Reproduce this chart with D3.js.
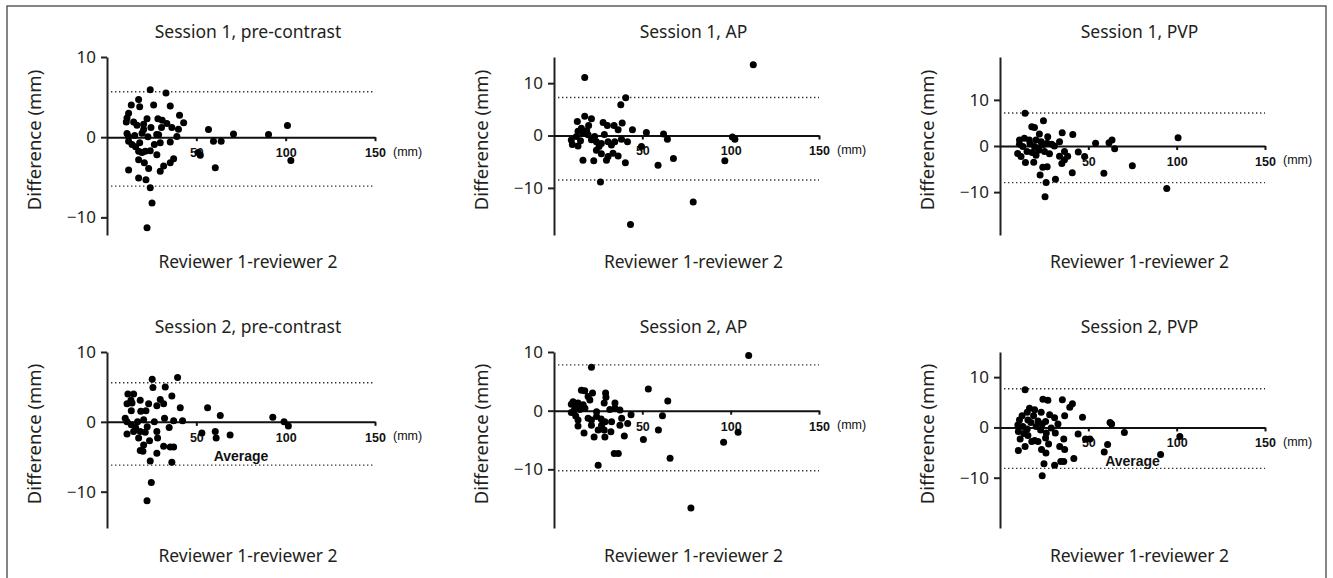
<!DOCTYPE html>
<html>
<head>
<meta charset="utf-8">
<style>
  body { margin: 0; background: #fff; }
  .title, .xlab, .ylab {
    font-family: "Noto Sans", sans-serif;
    font-size: 17.5px;
    fill: #231f20;
  }
  .ylab { font-size: 18.5px; }
  .yaxis text {
    font-family: "Noto Sans", sans-serif;
    font-size: 17px;
    fill: #231f20;
  }
  .xaxis text {
    font-family: "Liberation Sans", Arial, sans-serif;
    font-weight: bold;
    font-size: 12.5px;
    fill: #111;
  }
  .unit {
    font-family: "Liberation Sans", Arial, sans-serif;
    font-size: 12.5px;
    fill: #111;
  }
  .avg {
    font-family: "Liberation Sans", Arial, sans-serif;
    font-weight: bold;
    font-size: 14px;
    fill: #111;
  }
</style>
</head>
<body>
<svg id="chart" width="1333" height="578"></svg>
<script src="https://d3js.org/d3.v7.min.js"></script>
<script>
// average (mm) vs difference (mm)
var s1Pre = [[24.2,5.9],[33,5.5],[17.7,4.7],[13.6,4],[18.3,3.8],[26.1,4],[35.4,3.9],[12.1,3],[11.2,2.4],[10.8,1.9],
  [40.6,2.75],[22.4,2.3],[28.5,2.3],[30.9,2.1],[33.5,1.7],[14.9,1.9],[16.8,1.5],[20.5,1.6],[24.6,1.2],[42.9,1.8],
  [36.3,1.2],[40,1],[56.8,0.96],[20.5,0.96],[19.6,0.5],[70.8,0.4],[90.4,0.33],[101,1.46],[11.2,0.46],[12.1,0.1],
  [39.1,0.1],[28.9,0.3],[22.9,0.04],[12.1,-0.5],[14,-0.9],[18.3,-0.7],[29.8,-0.7],[35.4,-0.6],[59.6,-0.5],[63.9,-0.5],
  [17.7,-1.75],[19.6,-1.9],[21.4,-1.75],[24.2,-1.7],[27.9,-2.2],[52.2,-2.25],[37.3,-2.7],[35.4,-3.2],[31.7,-3.6],[17.7,-2.8],
  [20.9,-3.2],[12.1,-4.1],[23.3,-3.9],[29.8,-4.25],[60.6,-3.8],[102.9,-2.9],[17.7,-5.1],[21.8,-5.3],[24.2,-6.3],[25.2,-8.2],
  [22.4,-11.3],[51,-1.9],[15.5,0.2],[27.8,0.34],[26.5,-0.9],[16,-1.2],[30.5,1.2]];
var s1AP = [[17.4,11.1],[112.8,13.5],[40.6,7.2],[37.8,5.9],[17.4,3.7],[21.2,3.2],[13.2,2.7],[19.6,1.9],[15.5,1.4],[27.8,2.5],
  [30.2,1.9],[34,1.9],[38.6,2.4],[44.4,1.1],[36.3,1.1],[13.6,0.8],[52.3,0.6],[62,0.3],[64.2,-0.7],[102.4,-0.7],
  [23,-0.2],[16.4,0.45],[19.3,0.13],[9.8,-0.85],[10.4,-1.7],[13.6,-2],[24,-1.2],[26.8,-1.5],[30.6,-1.2],[34.4,-1.2],
  [38.2,-0.7],[41.6,-1.2],[32.5,-1.8],[49.5,-2.1],[24,-2.8],[26.8,-3.5],[29.7,-4.7],[33.4,-3.4],[36.3,-3.9],[16.4,-4.7],
  [22.5,-4.8],[40.4,-5.2],[58.9,-5.7],[67.6,-4.4],[96.7,-4.8],[26.3,-8.9],[78.8,-12.7],[43.3,-17],[30.6,-4],[25.5,-2.1],
  [21.2,-0.8],[12.7,-0.2],[101,-0.3],[18.5,0.9],[28.5,0.2],[15,-1]];
var s1PVP = [[14.2,7.1],[24.6,5.5],[18,4.2],[19.5,4],[35.2,2.9],[41.2,2.5],[22.3,2.6],[27,2],[100.8,1.8],[63.4,1.3],
  [61.7,0.7],[54.1,0.6],[64.9,-0.6],[11,1.3],[13.8,1.7],[16.6,1.3],[20.4,1.3],[23.3,0.9],[26.7,0.6],[29.3,0.4],
  [33.7,0.9],[11,0.4],[12.9,-0.1],[19.5,-0.1],[30.8,0],[10,-1.6],[11.9,-2.3],[15.3,-1.2],[20.4,-2],[25.2,-1.2],
  [28,-1.7],[36.5,-1.2],[33.7,-2.2],[38.3,-2.2],[44.3,-1.3],[47.9,-2.3],[14.4,-3.6],[19.1,-3.5],[35,-3.8],[36.5,-3],
  [74.9,-4.3],[24.2,-4.6],[26.7,-4.5],[40.9,-5.8],[58.8,-5.9],[22.7,-6.3],[26.1,-7.9],[31.4,-7.2],[94.4,-9.2],[25.5,-11],
  [18.2,-1.4],[21.8,-0.9],[17,0.5],[22,-0.4],[24.5,0.3]];
var s2Pre = [[25.3,6.1],[39.5,6.35],[25.7,4.9],[32.6,5],[11.7,4],[14.9,4],[13.4,3.1],[18.6,3.1],[11.2,2.6],[14,2.7],
  [29.8,3.2],[31.7,2.6],[27.9,2.3],[23.3,2.6],[36.3,3.7],[41,2],[56.3,2],[63.4,0.9],[92.8,0.66],[99.1,0],
  [101.5,-0.6],[13.6,1.6],[18.9,1.5],[21.8,1.6],[10.2,0.5],[11.2,0],[13.6,-0.4],[17.1,0],[20.5,0.3],[26.5,0],
  [32.2,0.5],[37.3,0.15],[42.3,0.15],[34.8,-0.8],[11.2,-1.75],[14.9,-1.4],[18.6,-1.4],[21.4,-1.5],[27.9,-1.4],[17.7,-2.3],
  [23.8,-2.7],[28.3,-2.3],[53.1,-1.6],[60.6,-1.4],[61.1,-2.3],[68.9,-1.9],[20.5,-3.3],[31.7,-3.5],[35.4,-3.6],[37.3,-3.6],
  [18.6,-4.1],[20.1,-4.2],[27.9,-4.5],[24.2,-5.6],[36.3,-5.8],[24.8,-8.7],[22.4,-11.3],[16,-0.8],[22.5,-0.7]];
var s2AP = [[21.2,7.4],[110.2,9.4],[53.4,3.7],[64.4,1.66],[61.4,-0.86],[15.5,3.5],[17.4,3.4],[21.8,3],[29.2,3],[29.4,2.3],
  [19.3,2.4],[20.3,1.8],[10.8,1.5],[13.6,1.3],[28.4,1.3],[34.5,1.3],[9.8,1.1],[16.5,1],[12.7,0.7],[14.6,0.2],
  [37.3,0.1],[31.6,0.2],[34.5,0.4],[9.8,-0.3],[12.3,-0.9],[24.1,-0.2],[43.6,-0.7],[13.6,-1.6],[19.3,-1.3],[24.1,-1],
  [26.7,-1.4],[28.9,-1.9],[32.6,-1.9],[38.3,-1.3],[37.3,-2.5],[41.7,-2.2],[13.6,-2.6],[21.2,-2.5],[25,-3.3],[28.4,-3.3],
  [32.2,-3.6],[17,-3.8],[22.7,-4.5],[28.8,-4.5],[39.8,-4.3],[59.1,-3.3],[50.6,-4.9],[96,-5.4],[104.2,-3.7],[34.1,-7.3],
  [36.4,-7.3],[65.7,-8.1],[25,-9.3],[77.5,-16.6],[26.9,-2.5],[21.2,-1.6],[17.5,0.4],[11.5,0.1]];
var s2PVP = [[14.2,7.5],[24.3,5.6],[27.1,5.4],[35.3,5.5],[41,4.7],[39.5,4],[16.7,3.8],[19.6,3.5],[15.4,3],[23.3,3],
  [28.1,2.5],[36.6,2.3],[46.7,2],[12.5,2.3],[19,2.3],[30.9,1.9],[11,1.5],[15.8,1.5],[21.5,1.3],[25.8,1.2],
  [32.8,0.7],[62.3,1],[63.2,0.7],[10.1,0.5],[12.9,0.2],[20.5,0.2],[23.9,0.7],[29,-0.1],[10.4,-0.8],[15.4,-0.3],
  [23,-0.5],[26.2,-1.1],[31.3,-1.1],[70.4,-1],[44.2,-1.3],[101.8,-1.8],[11.4,-2.3],[15.8,-1.6],[19.6,-2.6],[25.8,-2.1],
  [36.1,-2.3],[48.4,-2.3],[18,-2.8],[21.5,-2.8],[27.5,-3.3],[33.8,-3.8],[36.6,-4.4],[60.9,-3.4],[14.2,-3.8],[10.4,-4.6],
  [23.5,-4.4],[26,-5.1],[59,-4.9],[90.9,-5.4],[41.8,-6.2],[24.9,-7.2],[30.9,-7.5],[34.4,-6.8],[36.1,-6.8],[23.9,-9.6],
  [50.9,-2.3],[17.5,1],[13.5,-1.2]];

var titles = ["Session 1, pre-contrast", "Session 1, AP", "Session 1, PVP",
              "Session 2, pre-contrast", "Session 2, AP", "Session 2, PVP"];
var series = [s1Pre, s1AP, s1PVP, s2Pre, s2AP, s2PVP];
var yDomains = [[-12.2, 10], [-19, 15], [-19.3, 19.3], [-15.2, 10], [-20, 10], [-20, 15]];
var upperLimits = [5.67, 7.25, 7.15, 5.6, 7.8, 7.7];
var lowerLimits = [-6.1, -8.5, -7.95, -6.2, -10.25, -8.15];
var showAverage = [false, false, false, true, false, true];
var xDomain = [0, 150];
var yTicks = [-10, 0, 10];
var xTicks = [50, 100, 150];

var svg = d3.select("#chart");

// outer frame
svg.append("rect")
  .attr("x", 7).attr("y", 6)
  .attr("width", 1319).attr("height", 580)
  .attr("fill", "none")
  .attr("stroke", "#444")
  .attr("stroke-width", 1.3);

var colLeft = [107, 554, 1000];
var colRight = [375, 819, 1265];
var rowTop = [57, 352];
var rowBottom = [235, 528];
var titleY = [32, 327];
var xlabY = [262, 556];

series.forEach(function(data, i) {
  var c = i % 3, r = Math.floor(i / 3);
  var x = d3.scaleLinear().domain(xDomain).range([colLeft[c], colRight[c]]);
  var y = d3.scaleLinear().domain(yDomains[i]).range([rowBottom[r], rowTop[r]]);
  var g = svg.append("g");
  var mid = (colLeft[c] + colRight[c]) / 2;

  g.append("text").attr("class", "title")
    .attr("x", mid + 7).attr("y", titleY[r])
    .attr("dy", "0.35em").attr("text-anchor", "middle")
    .text(titles[i]);

  g.append("text").attr("class", "xlab")
    .attr("x", mid + 7).attr("y", xlabY[r])
    .attr("dy", "0.35em").attr("text-anchor", "middle")
    .text("Reviewer 1-reviewer 2");

  g.append("text").attr("class", "ylab")
    .attr("transform", "translate(" + (colLeft[c] - 72) + "," + ((rowTop[r] + rowBottom[r]) / 2 - 6) + ") rotate(-90)")
    .attr("dy", "0.35em").attr("text-anchor", "middle")
    .text("Difference (mm)");

  // limits of agreement
  [upperLimits[i], lowerLimits[i]].forEach(function(v) {
    g.append("line")
      .attr("x1", colLeft[c] + 4).attr("x2", colRight[c])
      .attr("y1", y(v)).attr("y2", y(v))
      .attr("stroke", "#333").attr("stroke-width", 1.4)
      .attr("stroke-dasharray", "1.4,2.6");
  });

  var ya = g.append("g").attr("class", "yaxis")
    .attr("transform", "translate(" + colLeft[c] + ",0)")
    .call(d3.axisLeft(y).tickValues(yTicks).tickSize(6).tickSizeOuter(0).tickPadding(5).tickFormat(d3.format("d")));
  ya.selectAll("path, line").attr("stroke", "#231f20").attr("stroke-width", 2);

  var xa = g.append("g").attr("class", "xaxis")
    .attr("transform", "translate(0," + y(0) + ")")
    .call(d3.axisBottom(x).tickValues(xTicks).tickSize(4).tickSizeOuter(0).tickPadding(7));
  xa.selectAll("path, line").attr("stroke", "#111").attr("stroke-width", 2);

  g.append("text").attr("class", "unit")
    .attr("x", colRight[c] + 18).attr("y", y(0) + 14)
    .attr("dy", "0.35em")
    .text("(mm)");

  if (showAverage[i]) {
    g.append("text").attr("class", "avg")
      .attr("x", mid).attr("y", y(0) + 34)
      .attr("dy", "0.35em").attr("text-anchor", "middle")
      .text("Average");
  }

  g.selectAll("circle").data(data).enter().append("circle")
    .attr("cx", function(d) { return x(d[0]); })
    .attr("cy", function(d) { return y(d[1]); })
    .attr("r", 3.5)
    .attr("fill", "#000");
});
</script>
</body>
</html>
